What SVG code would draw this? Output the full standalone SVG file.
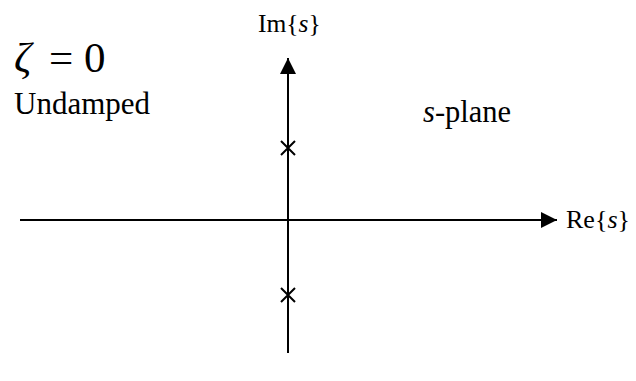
<svg xmlns="http://www.w3.org/2000/svg" width="636" height="381" viewBox="0 0 636 381">
<style>
text{font-family:'Liberation Serif','DejaVu Serif',serif;fill:#000}
.i{font-style:italic}
.ax{stroke:#000;stroke-width:2;fill:none}
.pole{stroke:#000;stroke-width:2;fill:none}
</style>
<defs>
<marker id="arr" markerWidth="16" markerHeight="16" refX="16" refY="8" orient="auto" markerUnits="userSpaceOnUse">
<path d="M0,0 L16,8 L0,16 Z" fill="#000"/>
</marker>
</defs>
<rect width="636" height="381" fill="#fff"/>
<g id="connectors">
<line class="ax" x1="20" y1="220" x2="557" y2="220" marker-end="url(#arr)"/>
<line class="ax" x1="288" y1="353" x2="288" y2="58" marker-end="url(#arr)"/>
</g>
<g id="pole1"><path class="pole" d="M281,141 L295,155 M295,141 L281,155"/></g>
<g id="pole2"><path class="pole" d="M281,288 L295,302 M295,288 L281,302"/></g>
<g id="label-zeta"><text y="72" font-size="43"><tspan class="i" x="14">ζ</tspan><tspan x="49">=</tspan><tspan x="84">0</tspan></text></g>
<g id="label-undamped"><text x="14" y="114" font-size="31">Undamped</text></g>
<g id="label-splane"><text x="423" y="122" font-size="30.5"><tspan class="i">s</tspan>-plane</text></g>
<g id="label-im"><text x="258" y="32" font-size="25.5">Im{<tspan class="i">s</tspan>}</text></g>
<g id="label-re"><text x="566" y="228" font-size="26">Re{<tspan class="i">s</tspan>}</text></g>
</svg>
